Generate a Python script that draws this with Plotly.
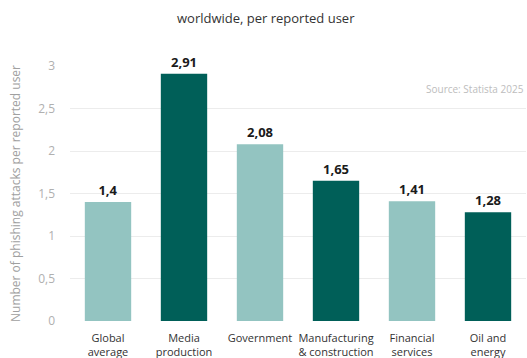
import plotly.graph_objects as go

categories = ["Global<br>average", "Media<br>production", "Government",
              "Manufacturing<br>& construction", "Financial<br>services", "Oil and<br>energy"]
values = [1.4, 2.91, 2.08, 1.65, 1.41, 1.28]
bar_colors = ["#93c4c1", "#005f58", "#93c4c1", "#005f58", "#93c4c1", "#005f58"]
y_ticks = [0, 0.5, 1, 1.5, 2, 2.5, 3]

fig = go.Figure(go.Bar(
    x=categories, y=values, marker=dict(color=bar_colors, line=dict(width=0)),
    width=0.61,
    text=values, texttemplate="<b>%{y}</b>", textposition="outside",
    textfont=dict(size=13, color="#1a1a1a", family="Open Sans"),
    cliponaxis=False,
))

fig.update_layout(
    width=527, height=358,
    margin=dict(l=70, r=1, t=66, b=37),
    paper_bgcolor="white", plot_bgcolor="white",
    separators=",.",
    font=dict(family="Open Sans", color="#333"),
    showlegend=False,
    bargap=0.39,
)
fig.update_xaxes(tickfont=dict(size=11, color="#333"), showline=False, ticks="",
                 ticklabelstandoff=9, automargin=False)
fig.update_yaxes(range=[0, 3], tickvals=y_ticks, showgrid=True, gridcolor="#ececec",
                 gridwidth=1, zeroline=False, tickfont=dict(size=12, color="#b0b0b0"),
                 ticklabelstandoff=14, automargin=False,
                 title=dict(text="Number of phishing attacks per reported user",
                            font=dict(size=12, color="#a0a0a0"), standoff=14))

fig.add_annotation(text="worldwide, per reported user", xref="paper", yref="paper",
                   x=0.43, y=1.0, yshift=48, showarrow=False,
                   font=dict(size=13, color="#333"), xanchor="center", yanchor="middle")
fig.add_annotation(text="Source: Statista 2025", xref="paper", yref="paper",
                   x=1.0, y=0.91, showarrow=False, xanchor="right", yanchor="middle",
                   font=dict(size=10, color="#bdbdbd"))

fig.write_html("out.html")
